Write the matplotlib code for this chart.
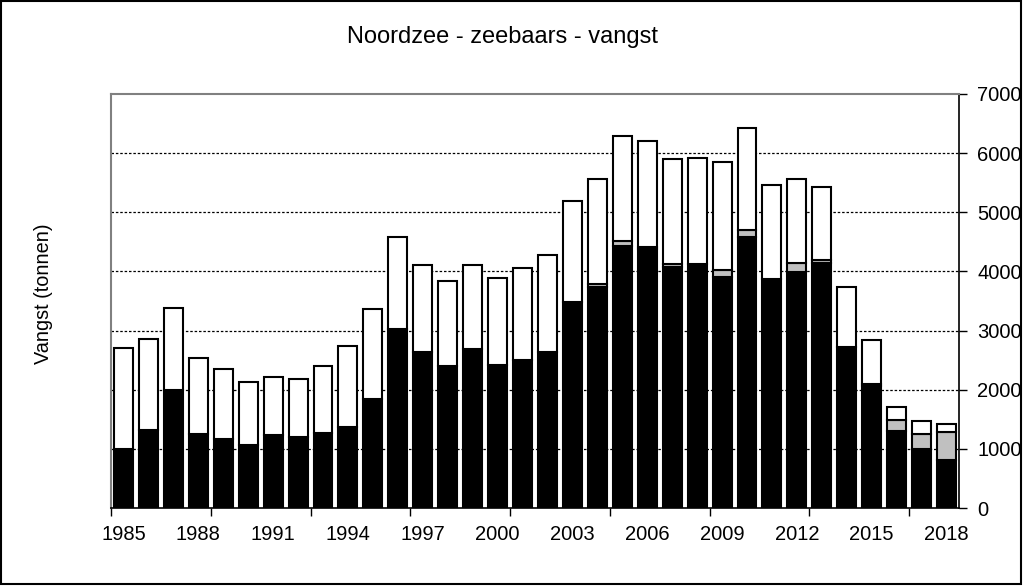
import matplotlib
matplotlib.use("Agg")
import matplotlib.pyplot as plt
import numpy as np
from matplotlib.patches import Rectangle

plt.rcParams['font.family'] = ['Liberation Sans', 'DejaVu Sans']

years = list(range(1985, 2019))
black = [1000, 1325, 1990, 1245, 1160, 1065, 1230, 1195, 1265, 1370, 1840, 3030,
         2630, 2405, 2680, 2420, 2500, 2645, 3480, 3740, 4435, 4375, 4080, 4130,
         3905, 4575, 3880, 3995, 4150, 2715, 2065, 1305, 995, 820]
gray = [0, 0, 0, 0, 0, 0, 0, 0, 0, 0, 0, 0,
        0, 0, 0, 0, 0, 0, 0, 45, 80, 40, 40, 0,
        125, 125, 0, 140, 35, 0, 40, 180, 250, 465]
white = [1700, 1535, 1395, 1295, 1195, 1065, 985, 990, 1140, 1370, 1525, 1550,
         1480, 1430, 1430, 1475, 1560, 1640, 1710, 1770, 1780, 1785, 1785, 1790,
         1820, 1720, 1580, 1435, 1240, 1020, 740, 230, 225, 140]
ytick_vals = [0, 1000, 2000, 3000, 4000, 5000, 6000, 7000]
title = "Noordzee - zeebaars - vangst"
ylabel = "Vangst (tonnen)"

fig = plt.figure(figsize=(10.24, 5.86), dpi=100)
ax = fig.add_axes([0.1084, 0.1331, 0.9365 - 0.1084, 0.8396 - 0.1331])

x = np.arange(len(years))
b = np.array(black)
g = np.array(gray)
w = np.array(white)
bw = 0.76
lw = 1.5
ax.bar(x, b, width=bw, color='black', edgecolor='black', linewidth=lw, zorder=3)
ax.bar(x, g, bottom=b, width=bw, color='#c0c0c0', edgecolor='black', linewidth=lw, zorder=3)
ax.bar(x, w, bottom=b + g, width=bw, color='white', edgecolor='black', linewidth=lw, zorder=3)

ax.set_xlim(-0.5, len(years) - 0.5)
ax.set_ylim(0, 7000)

# grid
for v in ytick_vals[1:-1]:
    ax.axhline(v, color='black', linestyle=(0, (2, 1.5)), linewidth=0.9, zorder=1)

# y axis on right
ax.yaxis.tick_right()
ax.set_yticks(ytick_vals)
ax.set_yticklabels([str(v) for v in ytick_vals])
ax.tick_params(axis='y', direction='out', length=6, width=1, labelsize=14.5, pad=7, colors='black')

# x axis: labels every 3 years at centres, tick marks every 4 categories at boundaries
lab_idx = list(range(0, len(years), 3))
ax.set_xticks(lab_idx)
ax.set_xticklabels([str(years[i]) for i in lab_idx])
ax.tick_params(axis='x', which='major', length=0, labelsize=14.5, pad=12)
ax.set_xticks(np.arange(-0.5, len(years) - 0.5, 4), minor=True)
ax.tick_params(axis='x', which='minor', direction='out', length=6, width=1)

for s in ['left', 'top']:
    ax.spines[s].set_color('#808080')
    ax.spines[s].set_linewidth(1.5)
for s in ['right', 'bottom']:
    ax.spines[s].set_color('black')
    ax.spines[s].set_linewidth(1.2)

fig.text(0.491, 0.937, title, ha='center', va='center', fontsize=17)
fig.text(0.042, 0.498, ylabel, ha='center', va='center', rotation=90, fontsize=14.3)

fig.patches.append(Rectangle((0.001, 0.004), 0.996, 0.994, transform=fig.transFigure,
                             fill=False, edgecolor='black', linewidth=1.5))

fig.savefig("out.png", dpi=100)
